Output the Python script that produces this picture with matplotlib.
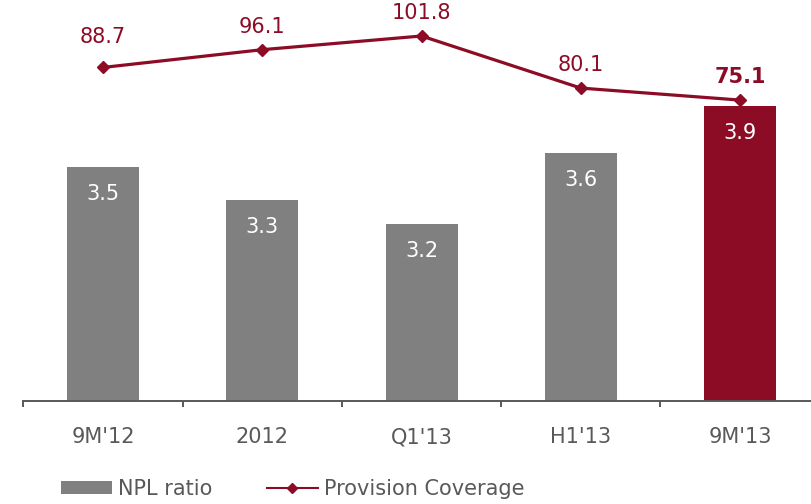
import matplotlib
matplotlib.use("Agg")
import matplotlib.pyplot as plt
from matplotlib.patches import Patch
from matplotlib.lines import Line2D

categories = ["9M'12", "2012", "Q1'13", "H1'13", "9M'13"]
npl_ratio = [3.54, 3.34, 3.20, 3.62, 3.90]
provision_coverage = [88.7, 96.1, 101.8, 80.1, 75.1]

GRAY = "#808080"
RED = "#8C0C26"
TXT = "#595959"
FS = 15

plt.rcParams['font.family'] = ['DejaVu Sans']

fig = plt.figure(figsize=(8.12, 5.04), dpi=100)
ax = fig.add_axes([23.4 / 812, 103 / 504, 796.25 / 812, 401 / 504])
x = list(range(len(categories)))
colors = [GRAY] * (len(categories) - 1) + [RED]
bars = ax.bar(x, npl_ratio, width=0.452, color=colors, zorder=2)
ax.set_xlim(-0.5, 4.5)
ax.set_ylim(2.15, 2.15 + 401 / 168.6)

for xi, v in zip(x, npl_ratio):
    ax.annotate(f"{v:.1f}", (xi, v), xytext=(0, -19.5), textcoords="offset points",
                ha="center", va="center", color="white", fontsize=FS)

for s in ["top", "left", "right"]:
    ax.spines[s].set_visible(False)
ax.spines["bottom"].set_color(TXT)
ax.spines["bottom"].set_linewidth(1.4)
ax.set_yticks([])
ax.set_xticks(x)
ax.set_xticklabels(categories, fontsize=FS, color=TXT)
ax.tick_params(axis="x", which="major", length=0, pad=19)
ax.set_xticks([i - 0.5 for i in range(len(categories) + 1)], minor=True)
ax.tick_params(axis="x", which="minor", length=4, width=1.4, color=TXT, direction="out")

ax2 = ax.twinx()
ax2.set_ylim(116.8 - 401 / 2.4, 116.8)
ax2.plot(x, provision_coverage, color=RED, lw=2.3, marker="D", markersize=6, zorder=3)
for i, (xi, v) in enumerate(zip(x, provision_coverage)):
    last = i == len(x) - 1
    off = 22 if i == 0 else 16.5
    ax2.annotate(f"{v:.1f}", (xi, v), xytext=(0, off), textcoords="offset points",
                 ha="center", va="center", color=RED, fontsize=FS,
                 fontweight="bold" if last else "normal")
ax2.axis("off")

handles = [Patch(facecolor=GRAY, edgecolor="none"),
           Line2D([], [], color=RED, lw=1.5, marker="D", markersize=5.5)]
fig.legend(handles, ["NPL ratio", "Provision Coverage"], loc="center left",
           bbox_to_anchor=(61 / 812, 1 - 489 / 504), ncol=2, frameon=False,
           fontsize=FS, labelcolor=TXT, handlelength=2.45, handleheight=0.55,
           handletextpad=0.3, columnspacing=2.6, borderpad=0, borderaxespad=0)

fig.savefig("out.png", dpi=100)
